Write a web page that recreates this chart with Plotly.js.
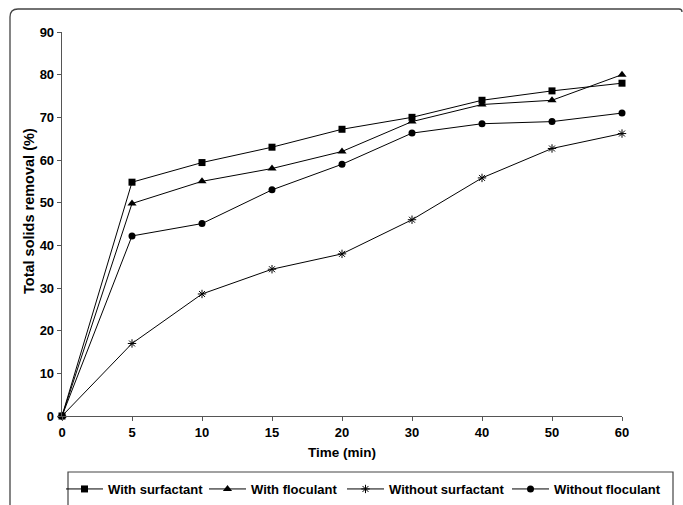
<!DOCTYPE html>
<html>
<head>
<meta charset="utf-8">
<script src="https://cdn.plot.ly/plotly-3.0.1.min.js"></script>
<style>html,body{margin:0;padding:0;background:#fff;}#chart{width:683px;height:505px;}</style>
</head>
<body>
<div id="chart"></div>
<script>
const timeLabels = ["0","5","10","15","20","30","40","50","60"];
const withSurfactant = [0, 54.8, 59.4, 63.0, 67.2, 70.0, 74.0, 76.2, 78.0];
const withFloculant = [0, 49.8, 55.0, 58.0, 62.0, 69.0, 73.0, 74.0, 80.0];
const withoutSurfactant = [0, 17.0, 28.6, 34.4, 38.0, 46.0, 55.8, 62.7, 66.2];
const withoutFloculant = [0, 42.2, 45.1, 53.0, 59.0, 66.3, 68.5, 69.0, 71.0];
const yTicks = [0,10,20,30,40,50,60,70,80,90];
const yTitle = 'Total solids removal (%)';
const xTitle = 'Time (min)';

const W = 683, H = 505;
const L = 62, R = 61, T = 32, B = 89;
const pw = W - L - R, ph = H - T - B;
const px = x => (x - L) / pw;
const py = y => (H - B - y) / ph;

function tr(name, y, symbol, size, lw, lwidth) {
  return {
    x: timeLabels, y: y, name: name, type: 'scatter', mode: 'lines+markers',
    cliponaxis: false, legendwidth: lwidth,
    line: {color: '#000', width: 1},
    marker: {symbol: symbol, size: size, color: '#000', line: {color: '#000', width: lw}}
  };
}

const data = [
  tr('Without floculant', withoutFloculant, 'circle', 7, 0, 106),
  tr('Without surfactant', withoutSurfactant, 'asterisk-open', 7, 1, 113),
  tr('With floculant', withFloculant, 'triangle-up', 8, 0, 86),
  tr('With surfactant', withSurfactant, 'square', 7, 0, 91)
];

const frame = `M ${px(10)},${py(510)} L ${px(10)},${py(17)} Q ${px(10)},${py(9)} ${px(18)},${py(9)} L ${px(679)},${py(9)} Q ${px(682)},${py(9)} ${px(682)},${py(12)}`;

const layout = {
  width: W, height: H,
  margin: {l: L, r: R, t: T, b: B, autoexpand: false},
  paper_bgcolor: '#fff', plot_bgcolor: '#fff',
  font: {family: 'Liberation Sans, Arial, sans-serif', size: 13, color: '#000'},
  showlegend: true,
  legend: {
    orientation: 'h', traceorder: 'reversed',
    x: px(61), y: py(474), xanchor: 'left', yanchor: 'top',
    font: {family: 'Liberation Sans, Arial, sans-serif', size: 13, color: '#000', weight: 'bold'},
    bgcolor: 'rgba(0,0,0,0)', borderwidth: 0, itemwidth: 37
  },
  xaxis: {
    type: 'category', range: [0, 8], showgrid: false, zeroline: false,
    showline: true, linecolor: '#555', linewidth: 1.3,
    ticks: 'outside', ticklen: 4, tickcolor: '#555', tickwidth: 1,
    tickfont: {size: 13, weight: 'bold'},
    title: {text: xTitle, font: {size: 13.5, weight: 'bold'}, standoff: 8}
  },
  yaxis: {
    range: [0, 90], tickvals: yTicks, showgrid: false, zeroline: false,
    showline: true, linecolor: '#555', linewidth: 1.3,
    ticks: 'outside', ticklen: 4, tickcolor: '#555', tickwidth: 1,
    tickfont: {size: 13, weight: 'bold'}
  },
  annotations: [
    {text: yTitle, xref: 'paper', yref: 'paper', x: px(29), y: py(211), xanchor: 'center', yanchor: 'middle',
     textangle: -90, showarrow: false, font: {size: 14.5, weight: 'bold', color: '#000'}}
  ],
  shapes: [
    {type: 'path', xref: 'paper', yref: 'paper', path: frame, line: {color: '#444', width: 1.3}},
    {type: 'rect', xref: 'paper', yref: 'paper', x0: px(68), x1: px(673), y0: py(472), y1: py(512), line: {color: '#444', width: 1.2}, fillcolor: 'rgba(0,0,0,0)'}
  ]
};

Plotly.newPlot('chart', data, layout, {displayModeBar: false, staticPlot: true});
</script>
</body>
</html>
